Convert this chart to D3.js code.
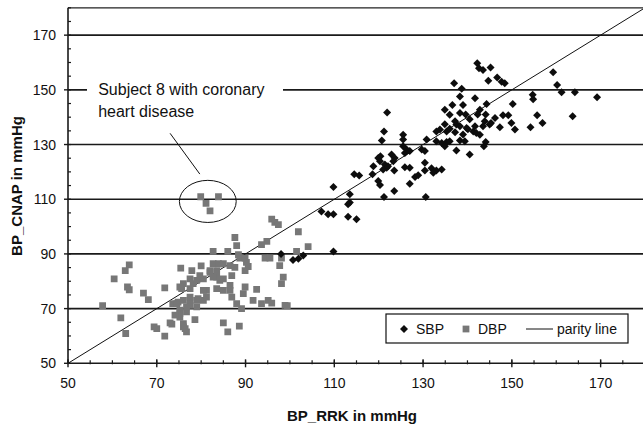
<!DOCTYPE html>
<html lang="en">
<head>
<meta charset="utf-8">
<title>BP CNAP vs RRK</title>
<script src="https://cdn.jsdelivr.net/npm/d3@7"></script>
<style>
  body { margin: 0; background: #fff; }
  text { font-family: Arial, "Liberation Sans", sans-serif; }
</style>
</head>
<body>
<script>
// ticks
var xTicks = [50, 70, 90, 110, 130, 150, 170];
var yTicks = [50, 70, 90, 110, 130, 150, 170];
var gridValues = [70, 90, 110, 130, 150, 170];

// systolic readings: RRK (x) and CNAP (y)
var sbpRRK = [98.0,100.7,101.9,103.0,109.8,107.1,108.6,109.8,113.1,115.0,109.8,113.5,113.5,113.1,114.5,115.6,118.6,118.8,119.9,120.4,
  120.3,119.9,120.3,120.7,121.2,121.9,121.4,122.1,121.8,121.0,122.9,123.6,123.3,123.5,123.5,121.2,125.5,125.5,125.5,126.3,
  125.9,127.0,125.9,127.0,128.2,128.9,127.0,130.6,130.8,130.4,130.4,131.9,133.0,132.3,133.0,129.7,130.4,134.2,135.3,134.2,
  137.5,140.5,138.3,139.4,144.1,143.7,141.3,142.0,142.8,133.0,133.8,135.3,136.0,137.5,139.8,141.7,143.9,145.0,134.9,136.0,
  136.6,138.3,139.0,141.7,144.3,142.8,137.0,138.7,138.3,142.2,142.6,143.5,145.2,144.7,146.7,147.7,148.4,159.3,160.2,161.2,
  164.2,169.2,154.7,154.8,150.2,155.7,156.9,154.2,163.7,148.0,149.2,147.3,149.9,150.7,145.3,146.2,140.5,139.6,137.2,138.3,
  144.1,142.3,143.5,139.0,136.0,134.9,134.9,137.2,140.1];
var sbpCNAP = [90.0,87.8,88.2,89.4,90.9,105.5,104.5,104.5,103.6,102.7,114.5,111.8,108.8,108.2,119.1,118.7,119.1,122.1,125.1,125.7,
  123.9,116.7,115.2,131.5,134.8,141.7,122.7,122.1,121.5,120.9,126.4,125.1,123.9,120.5,113.0,110.8,133.6,131.8,129.4,128.2,
  126.9,127.6,121.7,121.5,118.1,118.8,115.7,110.8,131.8,123.3,120.5,121.3,120.5,119.7,131.2,128.2,127.6,130.6,130.9,120.9,
  127.8,126.4,131.5,131.2,130.9,129.4,134.8,134.2,133.6,134.8,135.5,134.8,135.8,137.3,136.0,136.7,138.5,137.3,142.7,140.9,
  144.5,141.5,144.5,146.9,144.8,142.7,152.4,150.4,147.6,159.7,157.9,157.3,158.2,153.3,154.5,153.0,152.4,156.4,151.8,149.1,
  149.1,147.3,148.2,146.6,144.8,140.7,137.9,136.3,140.3,140.7,140.7,136.3,137.9,135.5,137.9,139.7,139.2,141.0,138.5,136.7,
  141.0,141.0,136.7,133.7,131.2,129.4,137.4,134.5,135.6];

// diastolic readings: RRK (x) and CNAP (y)
var dbpRRK = [63.8,62.9,60.4,63.4,63.8,67.0,68.1,57.8,71.8,75.4,61.9,63.0,69.4,70.0,71.8,73.0,73.4,73.6,87.6,88.0,
  82.7,86.0,88.4,77.9,80.0,82.7,83.9,85.0,86.5,87.6,76.0,75.6,78.2,79.0,80.5,82.0,83.5,74.8,77.5,79.3,
  80.5,75.2,76.7,75.2,78.6,76.0,76.7,85.0,86.0,88.6,89.1,89.5,89.9,83.5,85.0,86.9,81.2,83.5,86.5,79.0,
  77.5,95.9,96.6,97.4,101.9,104.1,94.8,93.6,88.7,89.9,90.6,89.9,94.4,95.5,101.5,98.1,97.7,98.5,98.1,92.5,
  95.1,98.9,79.9,81.1,82.0,83.9,91.7,93.6,95.9,99.4,76.0,76.4,90.2,77.5,75.2,77.5,79.7,82.0,82.7,84.2,
  80.5,81.2,79.0,76.0,74.5,76.7,75.2,74.1,85.0,86.5,86.9,88.0,77.5];
var dbpCNAP = [86.0,83.9,80.9,77.9,76.9,75.7,73.3,71.1,77.6,84.8,66.6,60.9,63.3,62.7,59.9,64.8,64.3,71.8,96.0,93.0,
  90.9,90.9,89.7,83.9,85.6,86.4,86.4,86.4,85.7,85.1,79.1,77.3,79.1,80.3,80.9,83.3,83.9,72.4,73.0,73.6,
  73.0,69.4,68.8,66.9,66.0,63.3,61.5,64.8,61.5,63.6,70.0,75.5,77.9,81.5,80.9,82.1,76.7,77.3,76.7,70.6,
  71.2,102.7,101.5,100.7,98.1,92.7,94.6,93.4,88.5,88.5,85.4,83.9,88.5,88.5,90.9,88.5,85.7,81.5,79.1,77.0,
  73.0,71.2,110.9,108.5,105.7,110.9,73.0,71.8,72.0,71.1,64.5,62.7,86.9,80.9,77.9,77.3,82.1,83.9,81.5,80.3,
  76.7,74.2,73.0,73.0,71.8,70.6,68.2,67.6,76.7,78.5,74.2,71.8,74.2];

var w = 643, h = 424;
var padL = 68, padR = 645, padT = 7.8, padB = 363.3;

var svg = d3.select("body").append("svg")
  .attr("width", w)
  .attr("height", h);

var xScale = d3.scaleLinear().domain([50, 180]).range([padL, padR]);
var yScale = d3.scaleLinear().domain([50, 180]).range([padB, padT]);

svg.append("clipPath").attr("id", "plotclip")
  .append("rect")
  .attr("x", padL).attr("y", padT)
  .attr("width", padR - padL).attr("height", padB - padT);

// frame top
svg.append("line")
  .attr("x1", padL).attr("x2", padR)
  .attr("y1", padT).attr("y2", padT)
  .attr("stroke", "#222").attr("stroke-width", 1.2);

// horizontal grid
svg.selectAll(".grid")
  .data(gridValues)
  .enter()
  .append("line")
  .attr("class", "grid")
  .attr("x1", padL).attr("x2", padR)
  .attr("y1", function(d) { return yScale(d); })
  .attr("y2", function(d) { return yScale(d); })
  .attr("stroke", "#1a1a1a")
  .attr("stroke-width", 1.6);

// annotation text with white box over the grid line
var note = svg.append("g");
note.append("rect")
  .attr("x", 87).attr("y", 80)
  .attr("width", 196).attr("height", 46)
  .attr("fill", "#fff");
note.append("text")
  .attr("x", xScale(56.8)).attr("y", yScale(148.2))
  .attr("font-size", "16px").attr("fill", "#111")
  .text("Subject 8 with coronary");
note.append("text")
  .attr("x", xScale(56.8)).attr("y", yScale(140.2))
  .attr("font-size", "16px").attr("fill", "#111")
  .text("heart disease");
note.append("line")
  .attr("x1", xScale(73.0)).attr("y1", yScale(134.1))
  .attr("x2", xScale(79.7)).attr("y2", yScale(119.2))
  .attr("stroke", "#111").attr("stroke-width", 1);
note.append("ellipse")
  .attr("cx", xScale(81.5)).attr("cy", yScale(109.2))
  .attr("rx", xScale(81.5 + 6.4) - xScale(81.5))
  .attr("ry", yScale(109.2) - yScale(109.2 + 7.7))
  .attr("fill", "none").attr("stroke", "#111").attr("stroke-width", 1);

var plot = svg.append("g").attr("clip-path", "url(#plotclip)");

// parity line
plot.append("line")
  .attr("x1", xScale(50)).attr("y1", yScale(50))
  .attr("x2", xScale(180)).attr("y2", yScale(180))
  .attr("stroke", "#111").attr("stroke-width", 1);

var dbp = dbpRRK.map(function(v, i) { return {x: v, y: dbpCNAP[i]}; });
var sbp = sbpRRK.map(function(v, i) { return {x: v, y: sbpCNAP[i]}; });

var squareSym = d3.symbol().type(d3.symbolSquare).size(46);
var diamondSym = d3.symbol().type(d3.symbolSquare).size(32);

plot.selectAll(".dbp")
  .data(dbp)
  .enter()
  .append("path")
  .attr("class", "dbp")
  .attr("d", squareSym)
  .attr("transform", function(d) { return "translate(" + xScale(d.x) + "," + yScale(d.y) + ")"; })
  .attr("fill", "#777");

plot.selectAll(".sbp")
  .data(sbp)
  .enter()
  .append("path")
  .attr("class", "sbp")
  .attr("d", diamondSym)
  .attr("transform", function(d) { return "translate(" + xScale(d.x) + "," + yScale(d.y) + ") rotate(45)"; })
  .attr("fill", "#0d0d0d");

// x axis
var xMinor = d3.range(50, 181, 5);
svg.append("line")
  .attr("x1", padL).attr("x2", padR)
  .attr("y1", padB).attr("y2", padB)
  .attr("stroke", "#1a1a1a").attr("stroke-width", 1.6);
svg.selectAll(".xminor")
  .data(xMinor)
  .enter()
  .append("line")
  .attr("x1", function(d) { return xScale(d); })
  .attr("x2", function(d) { return xScale(d); })
  .attr("y1", padB - 3).attr("y2", padB + 1)
  .attr("stroke", "#1a1a1a").attr("stroke-width", 1.2);
svg.selectAll(".xmajor")
  .data(xTicks)
  .enter()
  .append("line")
  .attr("x1", function(d) { return xScale(d); })
  .attr("x2", function(d) { return xScale(d); })
  .attr("y1", padB - 4).attr("y2", padB + 4)
  .attr("stroke", "#1a1a1a").attr("stroke-width", 1.4);
svg.selectAll(".xlabel")
  .data(xTicks)
  .enter()
  .append("text")
  .attr("x", function(d) { return xScale(d); })
  .attr("y", 388)
  .attr("text-anchor", "middle")
  .attr("font-size", "14px")
  .attr("fill", "#111")
  .text(function(d) { return d; });

// y axis
var yMinor = d3.range(50, 181, 5);
svg.append("line")
  .attr("x1", padL).attr("x2", padL)
  .attr("y1", padT).attr("y2", padB)
  .attr("stroke", "#1a1a1a").attr("stroke-width", 1.6);
svg.selectAll(".yminor")
  .data(yMinor)
  .enter()
  .append("line")
  .attr("x1", padL).attr("x2", padL + 3)
  .attr("y1", function(d) { return yScale(d); })
  .attr("y2", function(d) { return yScale(d); })
  .attr("stroke", "#1a1a1a").attr("stroke-width", 1.2);
svg.selectAll(".ymajor")
  .data(yTicks)
  .enter()
  .append("line")
  .attr("x1", padL - 4).attr("x2", padL)
  .attr("y1", function(d) { return yScale(d); })
  .attr("y2", function(d) { return yScale(d); })
  .attr("stroke", "#1a1a1a").attr("stroke-width", 1.4);
svg.selectAll(".ylabel")
  .data(yTicks)
  .enter()
  .append("text")
  .attr("x", 56)
  .attr("y", function(d) { return yScale(d) + 5; })
  .attr("text-anchor", "end")
  .attr("font-size", "14px")
  .attr("fill", "#111")
  .text(function(d) { return d; });

// axis titles
svg.append("text")
  .attr("x", 352).attr("y", 421)
  .attr("text-anchor", "middle")
  .attr("font-size", "15px").attr("font-weight", "bold")
  .attr("fill", "#111")
  .text("BP_RRK in mmHg");
svg.append("text")
  .attr("transform", "translate(22,186) rotate(-90)")
  .attr("text-anchor", "middle")
  .attr("font-size", "15px").attr("font-weight", "bold")
  .attr("fill", "#111")
  .text("BP_CNAP in mmHg");

// legend
var legend = svg.append("g").attr("transform", "translate(386,314)");
legend.append("rect")
  .attr("width", 242).attr("height", 29)
  .attr("fill", "#fff").attr("stroke", "#111").attr("stroke-width", 1.2);
legend.append("path")
  .attr("d", diamondSym)
  .attr("transform", "translate(18,15) rotate(45)")
  .attr("fill", "#0d0d0d");
legend.append("text")
  .attr("x", 30).attr("y", 20)
  .attr("font-size", "14px").attr("fill", "#111")
  .text("SBP");
legend.append("path")
  .attr("d", squareSym)
  .attr("transform", "translate(80,15)")
  .attr("fill", "#777");
legend.append("text")
  .attr("x", 92).attr("y", 20)
  .attr("font-size", "14px").attr("fill", "#111")
  .text("DBP");
legend.append("line")
  .attr("x1", 140).attr("x2", 167)
  .attr("y1", 15).attr("y2", 15)
  .attr("stroke", "#111").attr("stroke-width", 1);
legend.append("text")
  .attr("x", 171).attr("y", 20)
  .attr("font-size", "14px").attr("fill", "#111")
  .text("parity line");
</script>
</body>
</html>
